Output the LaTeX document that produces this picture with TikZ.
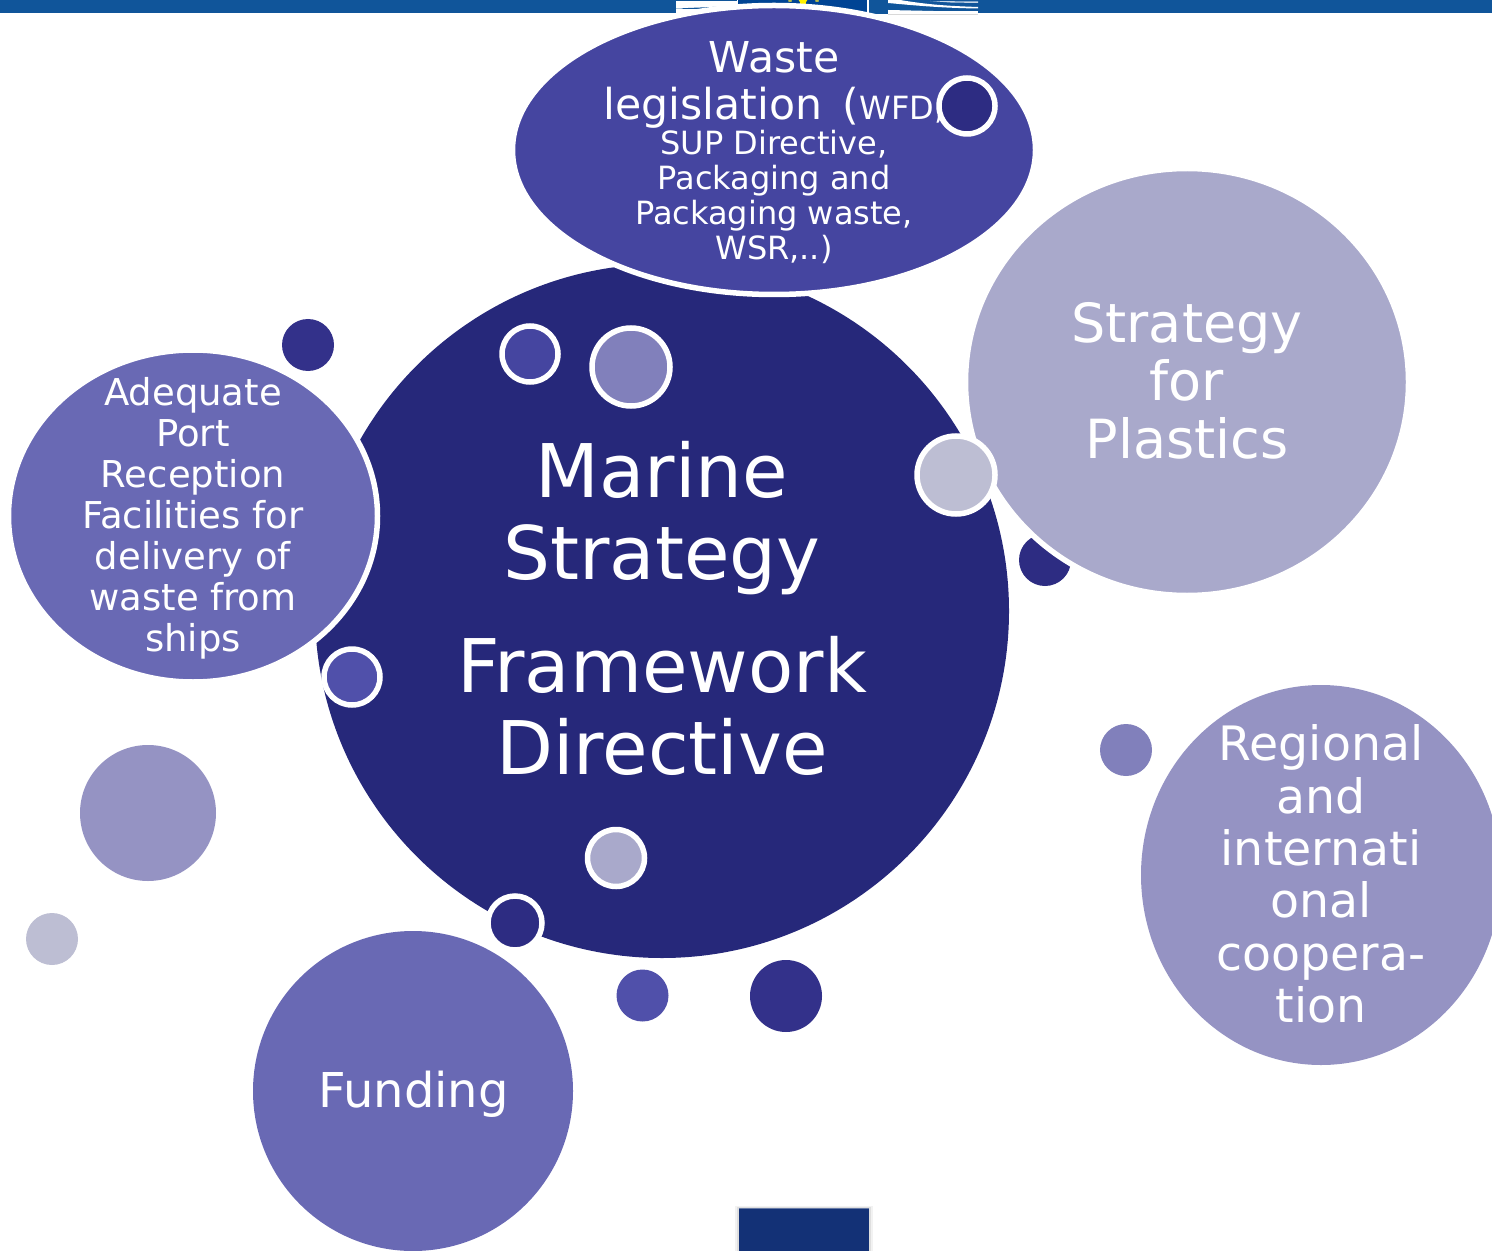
\documentclass[tikz,border=0pt]{standalone}
\usepackage{fontspec}
\setmainfont{DejaVu Sans}
\usetikzlibrary{shapes.geometric}
\definecolor{hdr}{HTML}{10559A}
\definecolor{flag}{HTML}{004494}
\definecolor{navy}{HTML}{26287A}
\definecolor{wastec}{HTML}{4545A0}
\definecolor{plast}{HTML}{A9A9CB}
\definecolor{portc}{HTML}{6969B4}
\definecolor{regc}{HTML}{9593C3}
\definecolor{indigo}{HTML}{2D2C82}
\definecolor{midc}{HTML}{33318A}
\definecolor{violet}{HTML}{5050AA}
\definecolor{lav}{HTML}{8180BB}
\definecolor{pale}{HTML}{BDBED3}
\definecolor{tabc}{HTML}{133176}
\newcommand{\fs}[2]{\fontsize{#1}{#2}\selectfont}
\tikzset{
  x=0.5pt,y=-0.5pt,
  blob/.style={ellipse,inner sep=0pt,outer sep=0pt,fill=#1},
  ringed/.style={blob=#1,draw=white,line width=2.75pt},
  dot/.style={circle,inner sep=0pt,outer sep=0pt,fill=#1},
  ringdot/.style={dot=#1,draw=white,line width=2.75pt},
  txt/.style={text=white,align=center,inner sep=0pt,outer sep=0pt},
}
\begin{document}
\begin{tikzpicture}
\useasboundingbox (0,0) rectangle (1492,1251);
% header
\fill[hdr] (0,0) rectangle (1492,12.7);
\fill[white] (676,0) rectangle (978,15);
\fill[hdr] (676,0) rectangle (737,1);
\fill[hdr] (676,8.5) -- (737,6) -- (737,8) -- (690,9) -- cycle;
\fill[flag] (738,0) rectangle (867,15);
\fill[hdr] (869,0) rectangle (888,14);
\fill[hdr] (888,0) rectangle (978,11);
\fill[white] (888,0) -- (900,0) .. controls (930,5) and (950,6) .. (978,7) -- (978,8.5) .. controls (940,8) and (910,5) .. (888,3) -- cycle;
\fill[white!75!hdr] (930,1) -- (978,1.5) -- (978,3) -- (950,2.5) -- cycle;
\fill[white] (888,10) -- (978,12) -- (888,12.5) -- cycle;
\fill[black!15] (888,13.7) rectangle (978,14.7);
\node[star,star points=5,fill=yellow,inner sep=0pt,minimum size=9*0.5pt] (starmid) at (803,1.5) {};
\node[star,star points=5,fill=yellow!70!flag,inner sep=0pt,minimum size=5*0.5pt] (starl) at (790,0) {};
\node[star,star points=5,fill=yellow!70!flag,inner sep=0pt,minimum size=5*0.5pt] (starr) at (817,0) {};
% main
\node[dot=navy,minimum size=694*0.5pt] (main) at (662,611) {};
\node[dot=indigo,minimum size=52*0.5pt] (d1045) at (1045,560) {};
\node[ringed=plast,minimum width=443*0.5pt,minimum height=427*0.5pt] (plastics) at (1187,382) {};
\node[ringed=wastec,minimum width=523*0.5pt,minimum height=289*0.5pt] (waste) at (774,150) {};
\node[ringed=portc,minimum width=369*0.5pt,minimum height=332*0.5pt] (port) at (193,516) {};
\node[blob=regc,minimum width=360*0.5pt,minimum height=380*0.5pt] (regional) at (1321,875) {};
\node[blob=portc,minimum size=320*0.5pt] (funding) at (413,1091) {};
% small dots
\node[dot=midc,minimum size=52*0.5pt] (d308) at (308,345) {};
\node[ringdot=wastec,minimum size=56*0.5pt] (d530) at (530,354) {};
\node[ringdot=lav,minimum size=78*0.5pt] (d631) at (631,367) {};
\node[ringdot=pale,minimum size=78*0.5pt] (d956) at (956,475) {};
\node[ringdot=violet,minimum size=56*0.5pt] (d352) at (352,677) {};
\node[dot=lav,minimum size=52*0.5pt] (d1126) at (1126,750) {};
\node[dot=regc,minimum size=136*0.5pt] (d148) at (148,813) {};
\node[dot=pale,minimum size=52*0.5pt] (d52) at (52,939) {};
\node[ringdot=plast,minimum size=57*0.5pt] (d616) at (616,858) {};
\node[ringdot=indigo,minimum size=54*0.5pt] (d515) at (515,923) {};
\node[dot=violet,minimum size=52*0.5pt] (d642) at (642.5,995.5) {};
\node[dot=midc,minimum size=72*0.5pt] (d786) at (786,996) {};
% text
\node[txt,font=\fs{37}{41}] (tmain) at (662,608) {Marine\\Strategy\\[15.5pt]Framework\\Directive};
\node[txt,font=\fs{27}{29}] (tplast) at (1187,381) {Strategy\\for\\Plastics};
\node[txt,font=\fs{18.5}{20.5}] (tport) at (193,518.5) {Adequate\\Port\\Reception\\Facilities for\\delivery of\\waste from\\ships};
\node[txt,font=\fs{23.7}{26.2}] (treg) at (1321,874) {Regional\\and\\internati\\onal\\coopera-\\tion};
\node[txt,font=\fs{24}{26}] (tfund) at (413.5,1094) {Funding};
\node[txt,font=\fs{16}{17.5}] (twaste) at (774,153) {{\fs{21.3}{24}Waste}\\[6pt]{\fs{21.3}{24}legislation \,(}{\fs{16}{24}WFD,}\\SUP Directive,\\Packaging and\\Packaging waste,\\WSR,..)};
\node[ringdot=indigo,minimum size=56*0.5pt] (d967) at (967,106) {};
% bottom tab
\fill[black,opacity=.05] (735,1206) rectangle (873,1251);
\fill[black,opacity=.08] (737,1207) rectangle (871,1251);
\node[fill=tabc,inner sep=0pt,outer sep=0pt,minimum width=130*0.5pt,minimum height=43*0.5pt] (tab) at (804,1230) {};
\fill[tabc!65!white] (739,1208) rectangle (869,1209);
\end{tikzpicture}
\end{document}
